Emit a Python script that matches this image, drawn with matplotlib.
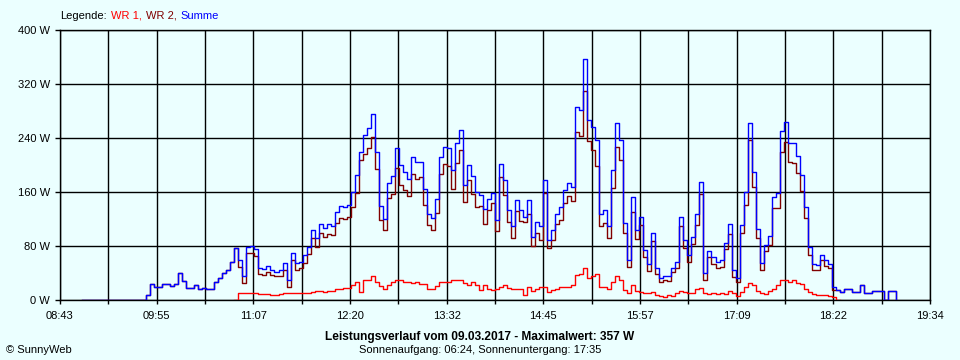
"""SunnyWeb daily power curve (Leistungsverlauf) for 09.03.2017."""

import matplotlib
matplotlib.use("Agg")
import matplotlib.pyplot as plt
import numpy as np

plt.rcParams["font.family"] = ["Liberation Sans", "DejaVu Sans"]
plt.rcParams["font.size"] = 8

nan = np.nan

# ── data (W), one sample every 3 min starting 08:59:30 ──────────────────────
T_START = 8 * 60 + 59.5     # minutes since midnight
T_STEP = 3.0

summe = [
    0, 0, 0, 0, 0, 0, 0, 0, 0, 0,
    0, 0, 0, 0, 0, 0, 7, 24, 20, 19,
    23, 24, 21, 24, 40, 28, 18, 18, 22, 17,
    18, 17, 17, 26, 32, 40, 44, 57, 77, 60,
    35, 79, 80, 75, 48, 46, 50, 44, 42, 44,
    55, 30, 70, 55, 57, 66, 79, 104, 92, 112,
    106, 112, 110, 130, 139, 138, 141, 160, 185, 220,
    245, 255, 276, 220, 140, 120, 173, 183, 225, 200,
    190, 180, 212, 205, 205, 165, 128, 121, 150, 212,
    227, 225, 193, 232, 252, 170, 200, 183, 160, 155,
    135, 150, 158, 119, 202, 178, 133, 109, 148, 133,
    123, 148, 94, 116, 109, 178, 89, 104, 128, 138,
    163, 173, 168, 286, 281, 357, 267, 257, 237, 128,
    133, 109, 193, 262, 237, 114, 59, 153, 104, 123,
    74, 54, 99, 47, 32, 35, 35, 47, 57, 123,
    89, 66, 94, 128, 175, 40, 72, 64, 56, 59,
    84, 112, 44, 32, 111, 160, 262, 190, 105, 55,
    82, 95, 153, 158, 250, 264, 232, 232, 213, 185,
    138, 79, 54, 52, 67, 59, 54, 20, 15, 12,
    16, 16, 12, 12, 22, 11, 11, 14, 14, 14,
    0, 14, 14, 0,
]

wr1 = [
    nan, nan, nan, nan, nan, nan, nan, nan, nan, nan,
    nan, nan, nan, nan, nan, nan, nan, nan, nan, nan,
    nan, nan, nan, nan, nan, nan, nan, nan, nan, nan,
    nan, nan, nan, nan, nan, nan, nan, nan, 0, 11,
    10, 10, 10, 10, 9, 9, 9, 7, 7, 9,
    10, 10, 10, 10, 10, 11, 11, 12, 13, 13,
    12, 14, 14, 16, 17, 18, 18, 22, 26, 12,
    29, 30, 35, 26, 21, 17, 22, 26, 29, 29,
    27, 26, 25, 26, 23, 24, 17, 17, 21, 26,
    26, 27, 29, 29, 30, 25, 22, 26, 22, 15,
    22, 17, 15, 17, 20, 22, 18, 17, 16, 16,
    8, 20, 14, 17, 20, 19, 12, 15, 16, 19,
    20, 19, 22, 37, 38, 47, 32, 35, 38, 19,
    19, 17, 27, 35, 30, 15, 10, 22, 14, 12,
    11, 11, 12, 8, 6, 5, 7, 6, 10, 13,
    12, 10, 11, 17, 18, 10, 9, 10, 9, 10,
    9, 14, 10, 6, 12, 19, 25, 22, 13, 10,
    9, 13, 17, 22, 30, 30, 27, 29, 25, 23,
    17, 12, 9, 7, 8, 8, 6, 5, 0, nan,
    nan, nan, nan, nan, nan, nan, nan, nan, nan, nan,
    nan, nan, nan, nan,
]

Y_TICKS = [0, 80, 160, 240, 320, 400]
X_LABELS = ["08:43", "09:55", "11:07", "12:20", "13:32",
            "14:45", "15:57", "17:09", "18:22", "19:34"]

# ── style ───────────────────────────────────────────────────────────────────
BG = "#EBFFFF"
C_WR1 = "#FF0000"
C_WR2 = "#800000"
C_SUM = "#0000FF"

T_MIN = 8 * 60 + 43
T_MAX = 19 * 60 + 34

summe_a = np.array(summe, dtype=float)
wr1_a = np.array(wr1, dtype=float)
wr2_a = summe_a - np.nan_to_num(wr1_a)      # Summe = WR 1 + WR 2
times = T_START + T_STEP * np.arange(len(summe_a))

fig = plt.figure(figsize=(9.6, 3.6), dpi=100)
fig.patch.set_facecolor(BG)
ax = fig.add_axes([60 / 960, 60 / 360, 870 / 960, 270 / 360])
ax.set_facecolor(BG)

ax.plot(times, wr1_a, color=C_WR1, lw=1.0, drawstyle="steps-post", zorder=3)
ax.plot(times, wr2_a, color=C_WR2, lw=1.0, drawstyle="steps-post", zorder=3)
ax.plot(times, summe_a, color=C_SUM, lw=1.0, drawstyle="steps-post", zorder=3)

ax.set_xlim(T_MIN, T_MAX)
ax.set_ylim(0, 400)

grid_x = np.linspace(T_MIN, T_MAX, 2 * len(X_LABELS) - 1)
ax.set_xticks(grid_x)
ax.set_xticklabels([X_LABELS[i // 2] if i % 2 == 0 else "" for i in range(len(grid_x))])
ax.set_yticks(Y_TICKS)
ax.set_yticklabels([f"{v} W" for v in Y_TICKS])

ax.grid(True, color="black", lw=1.0)
ax.tick_params(axis="x", length=3, width=1.0, pad=5, colors="black")
ax.tick_params(axis="y", length=3.6, width=1.0, pad=3.5, colors="black")
for s in ax.spines.values():
    s.set_color("black")
    s.set_linewidth(1.0)

# ── legend line: "Legende: WR 1, WR 2, Summe" ───────────────────────────────
renderer = fig.canvas.get_renderer()
x = 60
for s, c in [("Legende:", "black"), ("WR 1,", C_WR1), ("WR 2,", C_WR2), ("Summe", C_SUM)]:
    t = fig.text(x / 960, 1 - 16 / 360, s, color=c, ha="left", va="center")
    x += t.get_window_extent(renderer).width + 4

# ── footer ──────────────────────────────────────────────────────────────────
fig.text(480 / 960, 1 - 337 / 360,
         "Leistungsverlauf vom 09.03.2017 - Maximalwert: 357 W",
         ha="center", va="center", fontweight="bold", fontsize=8.6)
fig.text(480 / 960, 1 - 350 / 360,
         "Sonnenaufgang: 06:24, Sonnenuntergang: 17:35",
         ha="center", va="center")
fig.text(6 / 960, 1 - 350 / 360, "© SunnyWeb", ha="left", va="center")

fig.savefig("out.png", dpi=100, facecolor=BG)
